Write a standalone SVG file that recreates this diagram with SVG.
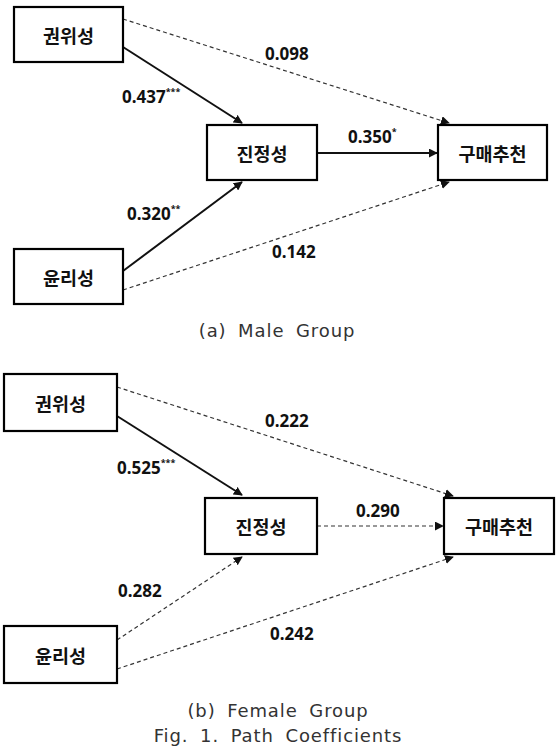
<svg xmlns="http://www.w3.org/2000/svg" width="556" height="748" viewBox="0 0 556 748">
<style>
.box{fill:#fff;stroke:#000;stroke-width:2.2}
.nt{font-family:"Noto Sans CJK KR","Noto Sans",sans-serif;font-weight:bold;font-size:18.5px;fill:#111;text-anchor:middle;dominant-baseline:central}
.lb{font-family:"Noto Sans","Liberation Sans",sans-serif;font-weight:bold;font-size:17px;fill:#111}
.st{font-size:9px}
.solid{stroke:#111;stroke-width:2;fill:none}
.dash{stroke:#333;stroke-width:1.2;stroke-dasharray:4 3;fill:none}
.cap{font-family:"DejaVu Sans","Liberation Sans",sans-serif;font-size:18px;fill:#333;text-anchor:middle;word-spacing:5px;letter-spacing:0.9px}
</style>
<defs>
<marker id="ah" viewBox="0 0 10 10" refX="9" refY="5" markerWidth="9" markerHeight="9" markerUnits="userSpaceOnUse" orient="auto">
<path d="M0,0 L10,5 L0,10 z" fill="#111"/>
</marker>
</defs>
<g id="connectors">
<line class="solid" x1="123" y1="47" x2="242" y2="123" marker-end="url(#ah)"/>
<line class="dash" x1="123" y1="19" x2="449" y2="123" marker-end="url(#ah)"/>
<line class="solid" x1="317" y1="153" x2="437" y2="153" marker-end="url(#ah)"/>
<line class="solid" x1="123" y1="271" x2="242" y2="182" marker-end="url(#ah)"/>
<line class="dash" x1="123" y1="290" x2="449" y2="182" marker-end="url(#ah)"/>
<line class="solid" x1="117" y1="416" x2="242" y2="495" marker-end="url(#ah)"/>
<line class="dash" x1="117" y1="387" x2="453" y2="496" marker-end="url(#ah)"/>
<line class="dash" x1="317" y1="526" x2="443" y2="526" marker-end="url(#ah)"/>
<line class="dash" x1="117" y1="640" x2="242" y2="557" marker-end="url(#ah)"/>
<line class="dash" x1="117" y1="669" x2="453" y2="557" marker-end="url(#ah)"/>
</g>
<g id="labels">
<text class="lb" x="265" y="60">0.098</text>
<text class="lb" x="122" y="103">0.437<tspan class="st" dy="-8">***</tspan></text>
<text class="lb" x="348" y="143">0.350<tspan class="st" dy="-8">*</tspan></text>
<text class="lb" x="127" y="220">0.320<tspan class="st" dy="-8">**</tspan></text>
<text class="lb" x="272" y="258">0.142</text>
<text class="lb" x="265" y="427">0.222</text>
<text class="lb" x="117" y="474">0.525<tspan class="st" dy="-8">***</tspan></text>
<text class="lb" x="356" y="517">0.290</text>
<text class="lb" x="118" y="597">0.282</text>
<text class="lb" x="270" y="640">0.242</text>
<text class="cap" x="277" y="337">(a) Male Group</text>
<text class="cap" x="278" y="717">(b) Female Group</text>
<text class="cap" x="278" y="742">Fig. 1. Path Coefficients</text>
</g>
<g id="n1a"><rect class="box" x="14" y="7" width="109" height="55"/><text class="nt" x="68.5" y="34.5">권위성</text></g>
<g id="n2a"><rect class="box" x="207" y="125" width="110" height="55"/><text class="nt" x="262" y="152.5">진정성</text></g>
<g id="n3a"><rect class="box" x="438" y="125" width="109" height="55"/><text class="nt" x="492.5" y="152.5">구매추천</text></g>
<g id="n4a"><rect class="box" x="14" y="249" width="109" height="55"/><text class="nt" x="68.5" y="276.5">윤리성</text></g>
<g id="n1b"><rect class="box" x="4" y="374" width="113" height="57"/><text class="nt" x="60.5" y="402.5">권위성</text></g>
<g id="n2b"><rect class="box" x="205" y="498" width="112" height="56"/><text class="nt" x="261" y="526">진정성</text></g>
<g id="n3b"><rect class="box" x="444" y="498" width="110" height="56"/><text class="nt" x="499" y="526">구매추천</text></g>
<g id="n4b"><rect class="box" x="4" y="626" width="113" height="57"/><text class="nt" x="60.5" y="654.5">윤리성</text></g>
</svg>
